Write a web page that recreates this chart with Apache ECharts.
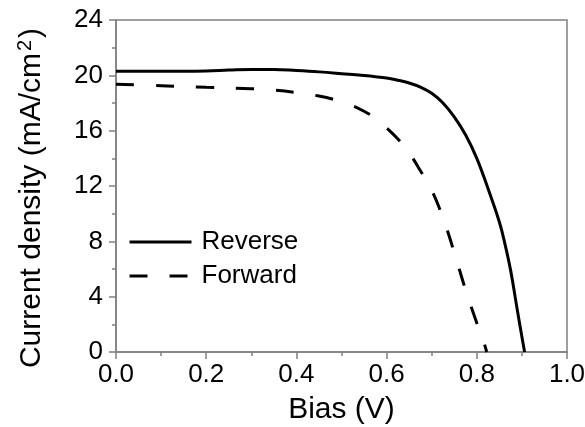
<!DOCTYPE html>
<html>
<head>
<meta charset="utf-8">
<script src="https://cdn.jsdelivr.net/npm/echarts@6/dist/echarts.min.js"></script>
<style>
  html, body { margin: 0; padding: 0; background: #fff; }
  #main { width: 585px; height: 427px; }
</style>
</head>
<body>
<div id="main"></div>
<script>
// bias (V) and current density (mA/cm2)
var reverseV = [0, 0.05, 0.1, 0.15, 0.2, 0.25, 0.3, 0.35, 0.4, 0.45, 0.5, 0.55, 0.575, 0.6, 0.625, 0.65, 0.675, 0.7, 0.725, 0.75, 0.775, 0.8, 0.825, 0.85, 0.8625, 0.875, 0.89, 0.9, 0.906];
var reverseJ = [20.3, 20.3, 20.3, 20.3, 20.32, 20.38, 20.43, 20.43, 20.35, 20.25, 20.12, 19.98, 19.9, 19.8, 19.65, 19.45, 19.15, 18.7, 18.0, 17.0, 15.7, 14.0, 11.8, 9.4, 7.8, 5.9, 3.0, 1.1, 0];

var forwardV = [0, 0.1, 0.2, 0.3, 0.35, 0.4, 0.45, 0.5, 0.525, 0.55, 0.575, 0.6, 0.625, 0.65, 0.675, 0.7, 0.725, 0.75, 0.775, 0.8, 0.81, 0.822];
var forwardJ = [19.35, 19.25, 19.13, 19.03, 18.93, 18.75, 18.5, 18.1, 17.8, 17.4, 16.9, 16.2, 15.4, 14.4, 13.1, 11.7, 9.7, 7.2, 4.5, 2.1, 1.3, 0];

var seriesNames = ['Reverse', 'Forward'];

function pairs(xs, ys) {
  return xs.map(function (x, i) { return [x, ys[i]]; });
}

var myChart = echarts.init(document.getElementById('main'));
var axisColor = '#808080';
var font = 'Liberation Sans, Arial, sans-serif';

var option = {
  animation: false,
  grid: {
    left: 116, right: 18, top: 20, bottom: 75,
    outerBoundsMode: 'none',
    show: true, borderColor: axisColor, borderWidth: 1.5
  },
  legend: {
    orient: 'vertical',
    left: 128, top: 229, padding: 0,
    itemWidth: 62, itemHeight: 14, itemGap: 8,
    itemStyle: { opacity: 0 },
    lineStyle: { width: 3 },
    textStyle: { fontFamily: font, fontSize: 26, color: '#000', padding: [0, 0, 0, 5] },
    data: seriesNames
  },
  xAxis: {
    type: 'value', min: 0, max: 1, interval: 0.2,
    name: 'Bias (V)', nameLocation: 'middle', nameGap: 43,
    nameTextStyle: { fontFamily: font, fontSize: 30, color: '#000' },
    axisLine: { lineStyle: { color: axisColor, width: 1.5 } },
    axisTick: { show: true, length: 7, lineStyle: { color: axisColor, width: 1.5 } },
    minorTick: { show: true, splitNumber: 2, length: 4, lineStyle: { color: axisColor, width: 1.5 } },
    splitLine: { show: false },
    axisLabel: {
      fontFamily: font, fontSize: 26, color: '#000', margin: 10,
      formatter: function (v) { return v.toFixed(1); }
    }
  },
  yAxis: {
    type: 'value', min: 0, max: 24, interval: 4,
    name: 'Current density (mA/cm{sup|2})', nameLocation: 'middle', nameGap: 67,
    nameTextStyle: {
      fontFamily: font, fontSize: 30, color: '#000', padding: [0, 24, 0, 0],
      rich: { sup: { fontFamily: font, fontSize: 20, color: '#000', padding: [0, 2, 14, 2] } }
    },
    axisLine: { show: true, lineStyle: { color: axisColor, width: 1.5 } },
    axisTick: { show: true, length: 7, lineStyle: { color: axisColor, width: 1.5 } },
    minorTick: { show: true, splitNumber: 2, length: 4, lineStyle: { color: axisColor, width: 1.5 } },
    splitLine: { show: false },
    axisLabel: { fontFamily: font, fontSize: 26, color: '#000', margin: 13 }
  },
  series: [
    {
      name: seriesNames[0], type: 'line', smooth: 0.4, symbol: 'none',
      lineStyle: { color: '#000', width: 3 },
      itemStyle: { color: '#000' },
      data: pairs(reverseV, reverseJ)
    },
    {
      name: seriesNames[1], type: 'line', smooth: 0.4, symbol: 'none',
      lineStyle: { color: '#000', width: 3, type: [18, 22] },
      itemStyle: { color: '#000' },
      data: pairs(forwardV, forwardJ)
    }
  ]
};
myChart.setOption(option);
</script>
</body>
</html>
